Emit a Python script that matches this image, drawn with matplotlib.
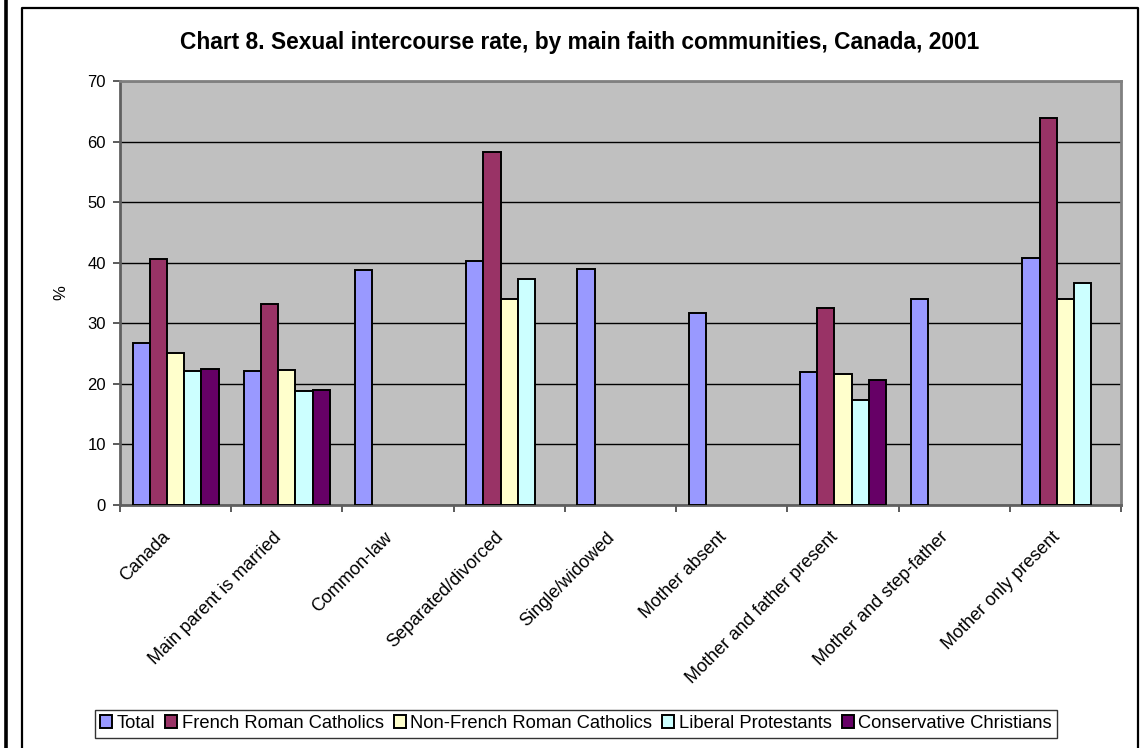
import matplotlib.pyplot as plt
import matplotlib.transforms as mtransforms
import numpy as np
from matplotlib.lines import Line2D

plt.rcParams['font.family'] = ['Liberation Sans', 'DejaVu Sans']

categories = ['Canada', 'Main parent is married', 'Common-law', 'Separated/divorced',
              'Single/widowed', 'Mother absent', 'Mother and father present',
              'Mother and step-father', 'Mother only present']
series_names = ['Total', 'French Roman Catholics', 'Non-French Roman Catholics',
                'Liberal Protestants', 'Conservative Christians']
total = [26.7, 22.2, 38.8, 40.3, 38.9, 31.7, 21.9, 34.0, 40.7]
french_rc = [40.6, 33.2, np.nan, 58.3, np.nan, np.nan, 32.6, np.nan, 63.9]
non_french_rc = [25.1, 22.3, np.nan, 34.0, np.nan, np.nan, 21.6, np.nan, 34.0]
liberal_prot = [22.2, 18.9, np.nan, 37.3, np.nan, np.nan, 17.4, np.nan, 36.7]
conservative = [22.5, 19.0, np.nan, np.nan, np.nan, np.nan, 20.6, np.nan, np.nan]

colors = ['#9999FF', '#993366', '#FFFFCC', '#CCFFFF', '#660066']
values = [total, french_rc, non_french_rc, liberal_prot, conservative]

W, H = 1143, 748
fig = plt.figure(figsize=(W / 100, H / 100), dpi=100)
ax = fig.add_axes([120 / W, 1 - 505 / H, (1121 - 120) / W, (505 - 81) / H])
ax.set_facecolor('#C0C0C0')

x = np.arange(len(categories))
w = 0.155
for i, (name, vals, c) in enumerate(zip(series_names, values, colors)):
    ax.bar(x + (i - 2) * w, vals, width=w, color=c, edgecolor='black',
           linewidth=1.4, label=name, zorder=3)

ax.set_xlim(-0.5, len(categories) - 0.5)
ax.set_ylim(0, 70)
ax.set_yticks(range(0, 71, 10))
ax.grid(axis='y', color='black', linewidth=1, zorder=0)
ax.set_xticks(x)
ax.set_xticks(np.arange(-0.5, len(categories)), minor=True)
ax.tick_params(axis='x', which='major', length=0, pad=17)
ax.tick_params(axis='x', which='minor', length=5, direction='out', color='#404040', width=1.2)
ax.tick_params(axis='y', labelsize=12, length=5, color='#404040', width=1.2, pad=5)
ax.set_xticklabels(categories, rotation=45, ha='right', va='top',
                   rotation_mode='anchor', fontsize=13)
# nudge the slanted labels a little left, as in the original
shift = mtransforms.ScaledTranslation(-14 / 100, 0, fig.dpi_scale_trans)
for lab in ax.get_xticklabels():
    lab.set_transform(lab.get_transform() + shift)
ax.set_ylabel('%', fontsize=12, labelpad=14)
for s in ax.spines.values():
    s.set_color('#808080')
    s.set_linewidth(2)
ax.spines['left'].set_color('#606060')
ax.spines['bottom'].set_color('#606060')

fig.text(579.5 / W, 1 - 42 / H,
         'Chart 8. Sexual intercourse rate, by main faith communities, Canada, 2001',
         ha='center', va='center', fontsize=16.4, fontweight='bold')

leg = fig.legend(loc='center', bbox_to_anchor=(576 / W, 1 - 723.5 / H), ncol=5,
                 fontsize=13.2, frameon=True, fancybox=False, edgecolor='black',
                 handlelength=0.65, handleheight=0.65, handletextpad=0.25,
                 columnspacing=0.55, borderpad=0.3, borderaxespad=0)
leg.get_frame().set_linewidth(1)

# page frame lines
fig.add_artist(Line2D([5.5 / W, 5.5 / W], [0, 1], color='black', linewidth=2.6))
fig.add_artist(Line2D([22 / W, 22 / W, 1138 / W, 1138 / W],
                      [0, 1 - 7.5 / H, 1 - 7.5 / H, 0], color='black', linewidth=1.6))

fig.savefig('out.png', dpi=100)
